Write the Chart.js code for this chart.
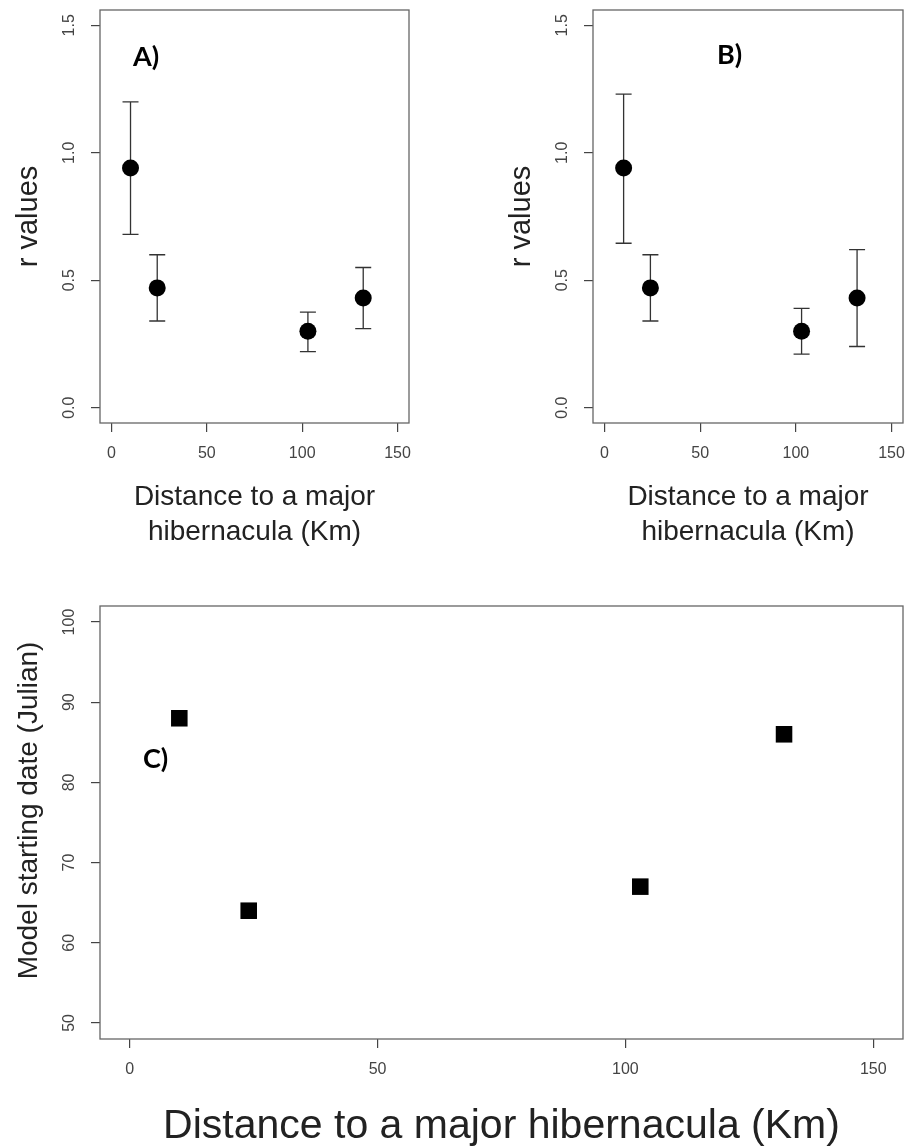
<!DOCTYPE html>
<html>
<head>
<meta charset="utf-8">
<script src="https://cdn.jsdelivr.net/npm/chart.js"></script>
<style>
  body { margin: 0; background: #fff; }
  .panel { position: absolute; }
</style>
</head>
<body>
<canvas id="chartA" class="panel" style="left:0;top:0" width="454" height="560"></canvas>
<canvas id="chartB" class="panel" style="left:454px;top:0" width="454" height="560"></canvas>
<canvas id="chartC" class="panel" style="left:0;top:560px" width="908" height="588"></canvas>
<script>
// distance to hibernacula (km), same sites in every panel
const distKm = [10, 24, 103, 132];

// panel A
const rA = [0.94, 0.47, 0.30, 0.43];
const rALow = [0.68, 0.34, 0.22, 0.31];
const rAHigh = [1.20, 0.60, 0.375, 0.55];

// panel B
const rB = [0.94, 0.47, 0.30, 0.43];
const rBLow = [0.645, 0.34, 0.21, 0.24];
const rBHigh = [1.23, 0.60, 0.39, 0.62];

// panel C
const startDay = [88, 64, 67, 86];

const distTicks = [0, 50, 100, 150];
const distTickLabels = ["0", "50", "100", "150"];
const rTicks = [0, 0.5, 1.0, 1.5];
const rTickLabels = ["0.0", "0.5", "1.0", "1.5"];
const dayTicks = [50, 60, 70, 80, 90, 100];
const dayTickLabels = ["50", "60", "70", "80", "90", "100"];

const FONT = '"Liberation Sans", Arial, sans-serif';

const panelDecor = {
  id: "panelDecor",
  beforeDatasetsDraw(chart, args, o) {
    if (!o.low) return;
    const ctx = chart.ctx;
    const xs = chart.scales.x, ys = chart.scales.y;
    ctx.save();
    ctx.strokeStyle = "#333";
    ctx.lineWidth = 1.3;
    distKm.forEach((d, i) => {
      const x = xs.getPixelForValue(d);
      const yl = ys.getPixelForValue(o.low[i]);
      const yh = ys.getPixelForValue(o.high[i]);
      ctx.beginPath();
      ctx.moveTo(x, yl); ctx.lineTo(x, yh);
      ctx.moveTo(x - 8, yl); ctx.lineTo(x + 8, yl);
      ctx.moveTo(x - 8, yh); ctx.lineTo(x + 8, yh);
      ctx.stroke();
    });
    ctx.restore();
  },
  afterDraw(chart, args, o) {
    const ctx = chart.ctx;
    const a = chart.chartArea;
    const ys = chart.scales.y;
    ctx.save();
    // box
    ctx.strokeStyle = "#666";
    ctx.lineWidth = 1.3;
    ctx.strokeRect(a.left, a.top, a.right - a.left, a.bottom - a.top);

    // rotated y tick labels
    ctx.fillStyle = "#444";
    ctx.font = "16px " + FONT;
    ctx.textAlign = "center";
    ctx.textBaseline = "middle";
    o.yTicks.forEach((v, i) => {
      ctx.save();
      ctx.translate(a.left - 30, ys.getPixelForValue(v));
      ctx.rotate(-Math.PI / 2);
      ctx.fillText(o.yLabels[i], 0, 0);
      ctx.restore();
    });

    // axis titles
    ctx.fillStyle = "#222";
    ctx.textBaseline = "alphabetic";
    ctx.font = o.yTitleSize + "px " + FONT;
    ctx.save();
    ctx.translate(a.left - 63, (a.top + a.bottom) / 2 + o.yTitleShift);
    ctx.rotate(-Math.PI / 2);
    ctx.fillText(o.yTitle, 0, 0);
    ctx.restore();

    ctx.font = o.xTitleSize + "px " + FONT;
    o.xTitle.forEach((line, i) => {
      ctx.fillText(line, (a.left + a.right) / 2, a.bottom + o.xTitleY + i * 35);
    });

    // panel tag
    ctx.font = 'bold 27px Lato, "Open Sans", sans-serif';
    ctx.fillStyle = "#000";
    ctx.textAlign = "left";
    ctx.fillText(o.tag, a.left + o.tagX, a.top + o.tagY);
    ctx.restore();
  }
};

function makePanel(id, values, yMin, yMax, yTicks, pointStyle, radius, padRight, yWidth, padTop, xHeight, decor) {
  new Chart(document.getElementById(id), {
    type: "scatter",
    data: {
      datasets: [{
        data: distKm.map((d, i) => ({ x: d, y: values[i] })),
        pointStyle: pointStyle,
        radius: radius,
        backgroundColor: "#000",
        borderColor: "#000",
        borderWidth: 0
      }]
    },
    options: {
      responsive: false,
      animation: false,
      layout: { autoPadding: false, padding: { top: padTop, right: padRight, left: 0, bottom: 0 } },
      plugins: {
        legend: { display: false },
        tooltip: { enabled: false },
        panelDecor: decor
      },
      scales: {
        x: {
          type: "linear",
          min: -6,
          max: 156,
          afterBuildTicks: (s) => { s.ticks = distTicks.map((v) => ({ value: v })); },
          afterFit: (s) => { s.height = xHeight; s.paddingLeft = 0; s.paddingRight = 0; },
          grid: { drawOnChartArea: false, drawTicks: true, tickLength: 9, color: "#444", lineWidth: 1.2 },
          border: { display: false },
          ticks: {
            padding: 12,
            color: "#444",
            font: { size: 16, family: FONT },
            maxRotation: 0,
            callback: (v) => distTickLabels[distTicks.indexOf(v)]
          }
        },
        y: {
          type: "linear",
          min: yMin,
          max: yMax,
          afterBuildTicks: (s) => { s.ticks = yTicks.map((v) => ({ value: v })); },
          afterFit: (s) => { s.width = yWidth; s.paddingTop = 0; s.paddingBottom = 0; },
          grid: { drawOnChartArea: false, drawTicks: true, tickLength: 9, color: "#444", lineWidth: 1.2 },
          border: { display: false },
          ticks: { display: false }
        }
      }
    },
    plugins: [panelDecor]
  });
}

makePanel("chartA", rA, -0.06, 1.56, rTicks, "circle", 8.5, 45, 100, 10, 137, {
  low: rALow, high: rAHigh, yTicks: rTicks, yLabels: rTickLabels,
  yTitle: "r values", yTitleSize: 29, yTitleShift: 0,
  xTitle: ["Distance to a major", "hibernacula (Km)"], xTitleSize: 28, xTitleY: 82,
  tag: "A)", tagX: 33, tagY: 56
});

makePanel("chartB", rB, -0.06, 1.56, rTicks, "circle", 8.5, 5, 139, 10, 137, {
  low: rBLow, high: rBHigh, yTicks: rTicks, yLabels: rTickLabels,
  yTitle: "r values", yTitleSize: 29, yTitleShift: 0,
  xTitle: ["Distance to a major", "hibernacula (Km)"], xTitleSize: 28, xTitleY: 82,
  tag: "B)", tagX: 124, tagY: 54
});

makePanel("chartC", startDay, 48, 102, dayTicks, "rect", 11.7, 5, 100, 46, 109, {
  yTicks: dayTicks, yLabels: dayTickLabels,
  yTitle: "Model starting date (Julian)", yTitleSize: 28, yTitleShift: -12,
  xTitle: ["Distance to a major hibernacula (Km)"], xTitleSize: 41, xTitleY: 99,
  tag: "C)", tagX: 43, tagY: 162
});
</script>
</body>
</html>
